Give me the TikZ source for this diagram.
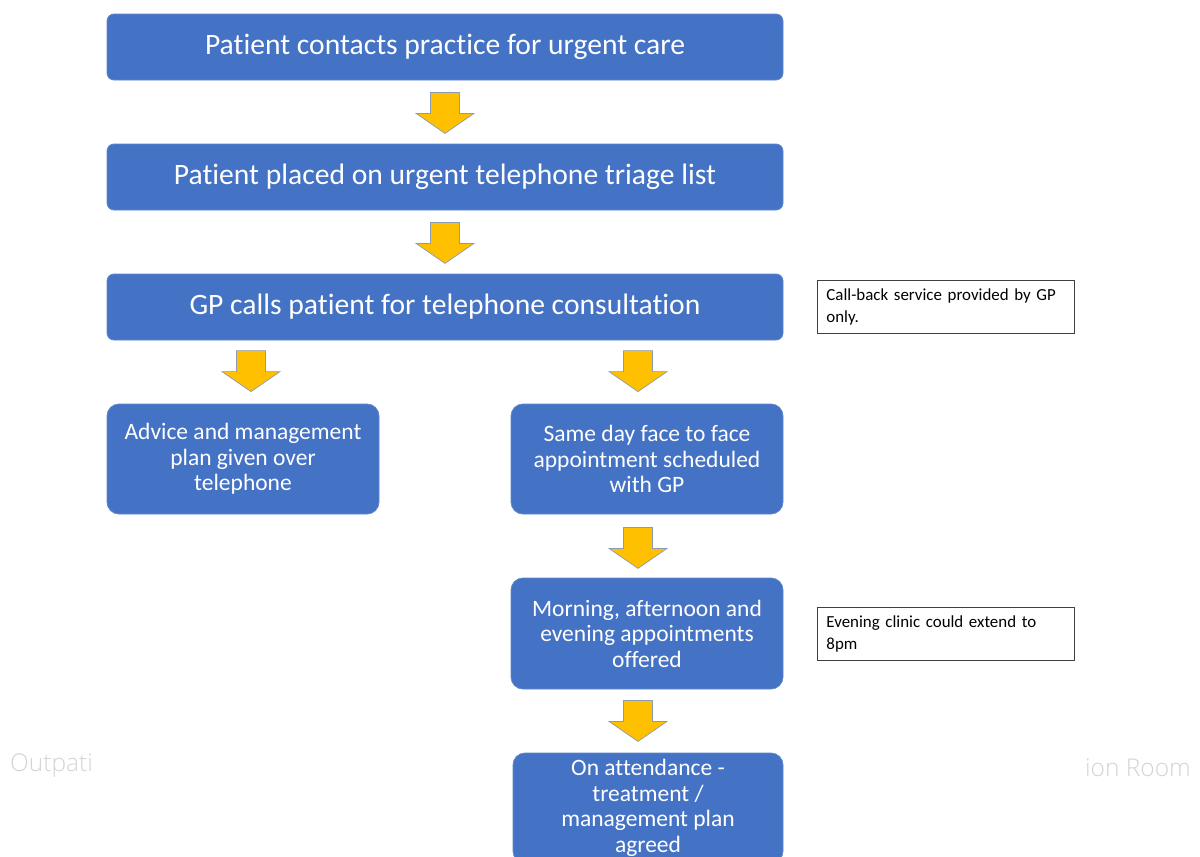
\documentclass[tikz,border=0pt]{standalone}
\usepackage{fontspec}
\setmainfont{Carlito}[Ligatures={NoCommon}]
\newfontfamily\fadedfont{Open Sans Light}[Ligatures={NoCommon}]
\usetikzlibrary{calc}
\definecolor{boxblue}{HTML}{4472C4}
\definecolor{boxedge}{HTML}{5B86D0}
\definecolor{arrfill}{HTML}{FFC000}
\definecolor{arredge}{HTML}{8A9BB5}
\definecolor{fadegray}{HTML}{D4D4D4}
\tikzset{
  mainbox/.style={rectangle, rounded corners=7pt, fill=boxblue, draw=boxedge, line width=0.8pt,
    minimum width=676pt, minimum height=66pt, text=white, align=center,
    font=\fontsize{29.6}{35}\selectfont, inner sep=0pt},
  subbox/.style={rectangle, rounded corners=12pt, fill=boxblue, draw=boxedge, line width=0.8pt,
    minimum width=272pt, minimum height=110pt, text=white, align=center,
    font=\fontsize{23.5}{25.5}\selectfont, inner sep=0pt},
  notebox/.style={rectangle, draw=black!75, line width=0.9pt, fill=white,
    minimum width=257pt, minimum height=53pt, text width=239pt, align=left,
    font=\fontsize{16.9}{22}\selectfont, inner xsep=9pt, inner ysep=6pt, anchor=north west},
  downarr/.pic={
    \draw[fill=arrfill, draw=arredge, line width=0.7pt, line join=miter]
      (-14.5,0) -- (14.5,0) -- (14.5,21) -- (29,21) -- (0,41) -- (-29,21) -- (-14.5,21) -- cycle;
  },
  faded/.style={text=fadegray, font=\fadedfont\fontsize{24.5}{28}\selectfont, inner sep=0pt, anchor=west}
}
\begin{document}
\begin{tikzpicture}[x=1pt,y=-1pt]
\useasboundingbox (0,0) rectangle (1200,857);
\clip (0,0) rectangle (1200,857);
\fill[white] (0,0) rectangle (1200,857);

\node[mainbox] (b1) at (445,47) {Patient contacts practice for urgent care};
\node[mainbox] (b2) at (445,177) {Patient placed on urgent telephone triage list};
\node[mainbox] (b3) at (445,307) {GP calls patient for telephone consultation};

\node[notebox] (n1) at (817,280) {Call-back service provided by GP\\only.};

\node[subbox] (b4) at (243,459) {Advice and management\\plan given over\\telephone};
\node[subbox] (b5) at (647,459) {Same day face to face\\appointment scheduled\\with GP};
\node[subbox, minimum height=111pt] (b6) at (647,633.5) {Morning, afternoon and\\evening appointments\\offered};
\node[notebox] (n2) at (817,607) {Evening clinic could extend to\\8pm};
\node[subbox, minimum width=270pt] (b7) at (648,808) {On attendance -\\treatment /\\management plan\\agreed};

\pic at ($(b1.south)+(0,12)$) {downarr};
\pic at ($(b2.south)+(0,12)$) {downarr};
\pic at ($(b4.north)+(8,-53)$) {downarr};
\pic at ($(b5.north)+(-9,-53)$) {downarr};
\pic at ($(b5.south)+(-9,13)$) {downarr};
\pic at ($(b6.south)+(-9,11)$) {downarr};

\node[faded] (f1) at (10,766) {Outpati};
\node[faded] (f2) at (1085,768) {ion Room};
\end{tikzpicture}
\end{document}
